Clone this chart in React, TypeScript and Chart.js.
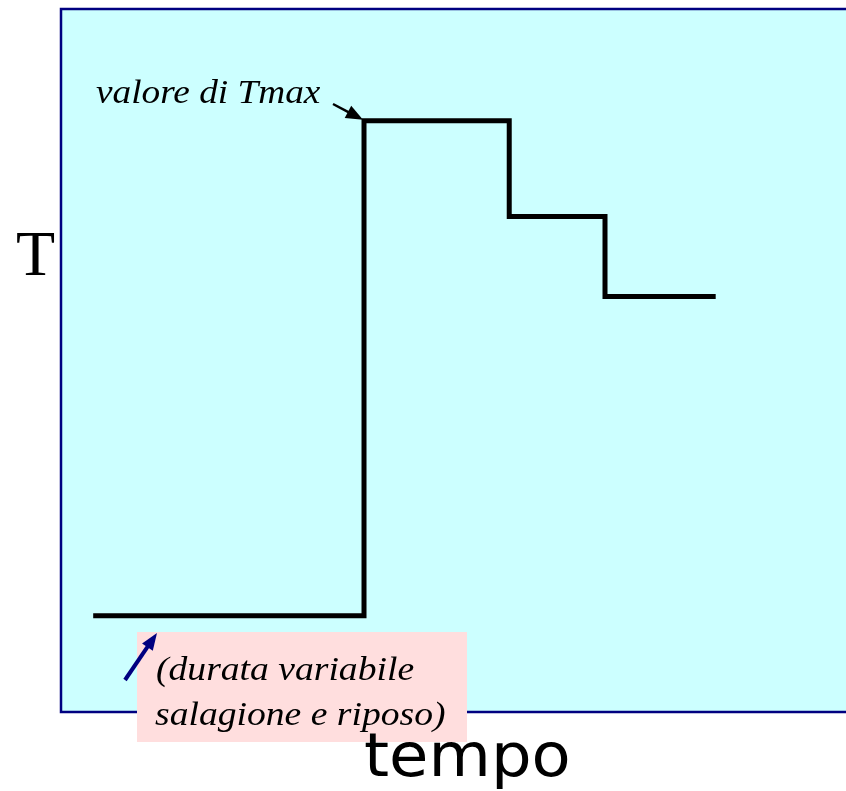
import React, { useEffect, useRef } from "react";
import { Chart, registerables } from "chart.js";

Chart.register(...registerables);

// time (arbitrary units) and temperature (arbitrary units)
const time: number[] = [4.1, 38.6, 57.1, 69.3, 83.4];
const temperature: number[] = [13.7, 84.1, 70.5, 59.1, 59.1];

const yAxisLabel = "T";
const xAxisLabel = "tempo";
const peakLabel = "valore di Tmax";
const noteLines: string[] = ["(durata variabile", "salagione e riposo)"];

function stretchedText(
  ctx: CanvasRenderingContext2D,
  text: string,
  x: number,
  y: number,
  sx: number
) {
  ctx.save();
  ctx.translate(x, y);
  ctx.scale(sx, 1);
  ctx.fillText(text, 0, 0);
  ctx.restore();
}

function drawArrow(
  ctx: CanvasRenderingContext2D,
  x0: number,
  y0: number,
  x1: number,
  y1: number,
  color: string,
  width: number,
  headLen: number,
  headW: number
) {
  const ang = Math.atan2(y1 - y0, x1 - x0);
  const bx = x1 - headLen * Math.cos(ang);
  const by = y1 - headLen * Math.sin(ang);
  ctx.strokeStyle = color;
  ctx.fillStyle = color;
  ctx.lineWidth = width;
  ctx.beginPath();
  ctx.moveTo(x0, y0);
  ctx.lineTo(bx + Math.cos(ang), by + Math.sin(ang));
  ctx.stroke();
  ctx.beginPath();
  ctx.moveTo(x1, y1);
  ctx.lineTo(bx + (headW / 2) * Math.sin(ang), by - (headW / 2) * Math.cos(ang));
  ctx.lineTo(bx - (headW / 2) * Math.sin(ang), by + (headW / 2) * Math.cos(ang));
  ctx.closePath();
  ctx.fill();
}

const decorPlugin = {
  id: "decor",
  beforeDraw(chart: any) {
    const { ctx, chartArea } = chart;
    const { left, top, right, bottom } = chartArea;
    ctx.save();
    ctx.fillStyle = "#CCFFFF";
    ctx.fillRect(left, top, right - left, bottom - top);
    ctx.strokeStyle = "#000080";
    ctx.lineWidth = 2.5;
    ctx.beginPath();
    ctx.moveTo(right + 2, top);
    ctx.lineTo(left, top);
    ctx.lineTo(left, bottom);
    ctx.lineTo(right + 2, bottom);
    ctx.stroke();
    ctx.restore();
  },
  afterDraw(chart: any) {
    const { ctx } = chart;
    const xs = chart.scales.x;
    const ys = chart.scales.y;
    ctx.save();
    ctx.textBaseline = "alphabetic";

    // peak label and arrow
    ctx.fillStyle = "#000";
    ctx.font = "italic 33px 'Liberation Serif', 'Times New Roman', serif";
    stretchedText(ctx, peakLabel, 96, 103, 1.13);
    const tipX = xs.getPixelForValue(time[1]) - 1;
    const tipY = ys.getPixelForValue(temperature[1]) - 1;
    drawArrow(ctx, 333, 104, tipX, tipY, "#000", 2.5, 17, 14);

    // note box
    ctx.fillStyle = "#FFDEDE";
    ctx.fillRect(137, 632, 330, 110);
    ctx.fillStyle = "#000";
    ctx.font = "italic 33px 'Liberation Serif', 'Times New Roman', serif";
    stretchedText(ctx, noteLines[0], 156, 680, 1.14);
    stretchedText(ctx, noteLines[1], 155, 725, 1.14);
    drawArrow(ctx, 125, 680, 157, 633, "#000080", 4, 17, 13);

    // axis labels
    ctx.fillStyle = "#000";
    ctx.font = "64px 'Liberation Serif', 'Times New Roman', serif";
    ctx.fillText(yAxisLabel, 16, 275);
    ctx.font = "61px 'DejaVu Sans', Verdana, sans-serif";
    stretchedText(ctx, xAxisLabel, 364, 776, 1.05);
    ctx.restore();
  },
};

export default function App() {
  const canvasRef = useRef<HTMLCanvasElement | null>(null);

  useEffect(() => {
    if (!canvasRef.current) return;
    const chart = new Chart(canvasRef.current, {
      type: "line",
      data: {
        datasets: [
          {
            data: time.map((t, i) => ({ x: t, y: temperature[i] })),
            borderColor: "#000",
            borderWidth: 5,
            stepped: true,
            pointRadius: 0,
            fill: false,
            borderJoinStyle: "miter",
            borderCapStyle: "butt",
          },
        ],
      },
      options: {
        animation: false,
        responsive: true,
        maintainAspectRatio: false,
        layout: { padding: { left: 61, top: 9, right: 0, bottom: 79 } },
        plugins: { legend: { display: false }, tooltip: { enabled: false } },
        scales: {
          x: { type: "linear", min: 0, max: 100, display: false },
          y: { type: "linear", min: 0, max: 100, display: false },
        },
      },
      plugins: [decorPlugin],
    });
    return () => chart.destroy();
  }, []);

  return (
    <div
      style={{
        position: "absolute",
        left: 0,
        top: 0,
        width: 846,
        height: 791,
        background: "#fff",
      }}
    >
      <canvas ref={canvasRef} />
    </div>
  );
}
